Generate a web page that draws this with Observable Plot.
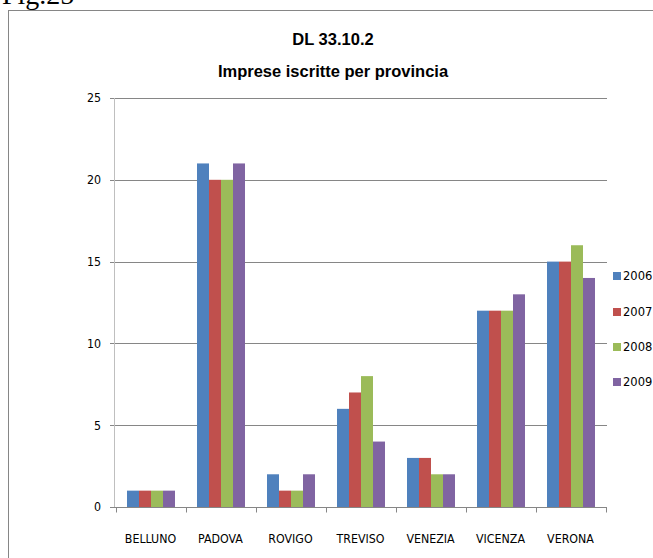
<!DOCTYPE html>
<html>
<head>
<meta charset="utf-8">
<script src="https://cdn.jsdelivr.net/npm/d3@7"></script>
<script src="https://cdn.jsdelivr.net/npm/@observablehq/plot@0.6"></script>
<style>
  html, body { margin: 0; padding: 0; background: #fff; }
  #wrap { position: relative; width: 653px; height: 558px; overflow: hidden; background: #fff; }
  #fig { position: absolute; left: 2px; top: -19px; font: 28px/28px "Liberation Serif", "Times New Roman", serif; color: #000; }
  #box { position: absolute; left: 8px; top: 10px; width: 700px; height: 600px; border: 1px solid #868686; box-sizing: border-box; }
  #chart { position: absolute; left: 0; top: 0; }
  .title { position: absolute; left: 0; width: 666px; text-align: center; font: bold 16.5px/20px "Liberation Sans", Arial, sans-serif; color: #000; }
  .leg { position: absolute; left: 613px; height: 16px; display: flex; align-items: center; font: 12.8px/16px "DejaVu Sans Condensed", "Liberation Sans Narrow", sans-serif; color: #000; }
  .leg span.sw { display: inline-block; width: 8px; height: 8px; margin-right: 2px; }
</style>
</head>
<body>
<div id="wrap">
  <div id="fig">Fig.25</div>
  <div id="box"></div>
  <div id="chart"></div>
  <div class="title" style="top:29px">DL 33.10.2</div>
  <div class="title" style="top:61px">Imprese iscritte per provincia</div>
  <div id="legend"></div>
</div>
<script>
const provinces = ["BELLUNO", "PADOVA", "ROVIGO", "TREVISO", "VENEZIA", "VICENZA", "VERONA"];
const years = ["2006", "2007", "2008", "2009"];
const v2006 = [1, 21, 2, 6, 3, 12, 15];
const v2007 = [1, 20, 1, 7, 3, 12, 15];
const v2008 = [1, 20, 1, 8, 2, 12, 16];
const v2009 = [1, 21, 2, 4, 2, 13, 14];
const yTicks = [0, 5, 10, 15, 20, 25];
const colors = ["#4F81BD", "#C0504D", "#9BBB59", "#8064A2"];

const series = [v2006, v2007, v2008, v2009];
const data = provinces.flatMap((p, i) => years.map((yr, j) => ({province: p, year: yr, value: series[j][i]})));

const font = '"DejaVu Sans Condensed", "Liberation Sans Narrow", sans-serif';
const fontSize = "12.3px";
const gridColor = "#868686";

function bounds(fx) {
  const step = fx.step(), bw = fx.bandwidth();
  const b = provinces.map(p => fx(p) - (step - bw) / 2);
  b.push(fx(provinces[provinces.length - 1]) + bw + (step - bw) / 2);
  return b;
}

const chart = Plot.plot({
  width: 653,
  height: 558,
  marginLeft: 114,
  marginRight: 46,
  marginTop: 98,
  marginBottom: 51,
  style: {background: "transparent", fontFamily: font, fontSize, color: "#000"},
  fx: {domain: provinces, paddingInner: 0.275, paddingOuter: 0.1375, axis: null, label: null},
  x: {domain: years, padding: 0, axis: null},
  y: {domain: [0, 25], axis: null},
  color: {domain: years, range: colors},
  marks: [
    Plot.frame({
      facet: "super",
      render(index, scales) {
        const {y, fx} = scales;
        const [x0, x1] = fx.range();
        const g = d3.create("svg:g");
        for (const t of yTicks) {
          g.append("line").attr("x1", x0 - 4).attr("x2", x1)
            .attr("y1", Math.round(y(t)) + 0.5).attr("y2", Math.round(y(t)) + 0.5)
            .attr("stroke", gridColor).attr("stroke-width", 1);
          g.append("text").attr("x", x0 - 13).attr("y", y(t)).attr("dy", "0.36em")
            .attr("text-anchor", "end").attr("fill", "#000")
            .attr("font-family", font).attr("font-size", fontSize).text(String(t));
        }
        return g.node();
      }
    }),
    Plot.barY(data, {fx: "province", x: "year", y: "value", fill: "year"}),
    Plot.frame({
      facet: "super",
      render(index, scales) {
        const {y, fx} = scales;
        const [x0, x1] = fx.range();
        const y0 = Math.round(y(0)) + 0.5;
        const g = d3.create("svg:g");
        g.append("line").attr("x1", Math.round(x0) + 0.5).attr("x2", Math.round(x0) + 0.5)
          .attr("y1", y(yTicks[yTicks.length - 1])).attr("y2", y0)
          .attr("stroke", "#BFBFBF").attr("stroke-width", 1);
        g.append("line").attr("x1", x0 - 4).attr("x2", x1)
          .attr("y1", y0).attr("y2", y0).attr("stroke", gridColor);
        for (const bx of bounds(fx)) {
          g.append("line").attr("x1", Math.round(bx) + 0.5).attr("x2", Math.round(bx) + 0.5)
            .attr("y1", y0).attr("y2", y0 + 5).attr("stroke", gridColor);
        }
        for (const p of provinces) {
          g.append("text").attr("x", fx(p) + fx.bandwidth() / 2).attr("y", y0 + 35)
            .attr("text-anchor", "middle").attr("fill", "#000")
            .attr("font-family", font).attr("font-size", fontSize).text(p);
        }
        return g.node();
      }
    })
  ]
});
document.getElementById("chart").appendChild(chart);

const legendTops = [268, 304, 339, 374];
const leg = document.getElementById("legend");
years.forEach((yr, j) => {
  const d = document.createElement("div");
  d.className = "leg";
  d.style.top = legendTops[j] + "px";
  const sw = document.createElement("span");
  sw.className = "sw";
  sw.style.background = colors[j];
  d.appendChild(sw);
  d.appendChild(document.createTextNode(yr));
  leg.appendChild(d);
});
</script>
</body>
</html>
